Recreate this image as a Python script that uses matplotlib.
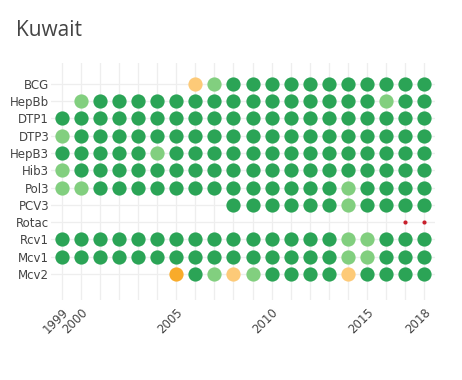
import matplotlib
matplotlib.use("Agg")
from matplotlib import pyplot as plt

years = list(range(1999, 2019))
vaccines = ["BCG", "HepBb", "DTP1", "DTP3", "HepB3", "Hib3",
            "Pol3", "PCV3", "Rotac", "Rcv1", "Mcv1", "Mcv2"]
shown_years = [1999, 2000, 2005, 2010, 2015, 2018]

# one char per year, 1999..2018
# G = high coverage, L = slightly lower, Y = medium, O = low, R = introduced, . = no data
status = {
    "BCG":   ".......YLGGGGGGGGGGG",
    "HepBb": ".LGGGGGGGGGGGGGGGLGG",
    "DTP1":  "GGGGGGGGGGGGGGGGGGGG",
    "DTP3":  "LGGGGGGGGGGGGGGGGGGG",
    "HepB3": "GGGGGLGGGGGGGGGGGGGG",
    "Hib3":  "LGGGGGGGGGGGGGGGGGGG",
    "Pol3":  "LLGGGGGGGGGGGGGLGGGG",
    "PCV3":  ".........GGGGGGLGGGG",
    "Rotac": "..................RR",
    "Rcv1":  "GGGGGGGGGGGGGGGLLGGG",
    "Mcv1":  "GGGGGGGGGGGGGGGLLGGG",
    "Mcv2":  "......OGLYLGGGGYGGGG",
}

colors = {"G": "#2ba456", "L": "#82cf7f", "Y": "#fdca78",
          "O": "#f8ab2a", "R": "#c8202c"}
sizes = {"G": 105, "L": 105, "Y": 105, "O": 105, "R": 9}

fig = plt.figure(figsize=(4.62, 3.80), dpi=100)
ax = fig.add_axes([0.1095, 0.2105, 0.833, 0.6237])

for code in colors:
    xs, ys = [], []
    for row, name in enumerate(vaccines):
        for k, c in enumerate(status[name]):
            if c == code:
                xs.append(years[k])
                ys.append(row)
    ax.scatter(xs, ys, s=sizes[code], color=colors[code], linewidths=0, zorder=3)

ax.set_xlim(1998.4, 2018.6)
ax.set_ylim(12.5, -1.2)

ax.set_xticks(years)
ax.set_xticklabels([str(y) if y in shown_years else "" for y in years],
                   rotation=45, ha="right", rotation_mode="anchor",
                   fontsize=8.5, color="#444444")
ax.set_yticks(range(len(vaccines)))
ax.set_yticklabels(vaccines, fontsize=8.5, color="#444444")
ax.tick_params(axis="y", length=0, pad=1)
ax.tick_params(axis="x", length=0, pad=4)

ax.grid(True, color="#eeeeee", linewidth=0.9)
ax.set_axisbelow(True)
for s in ax.spines.values():
    s.set_visible(False)

fig.text(0.035, 0.92, "Kuwait", fontsize=15, color="#444444", va="center",
         family="Open Sans")

fig.savefig("out.png", dpi=100)
